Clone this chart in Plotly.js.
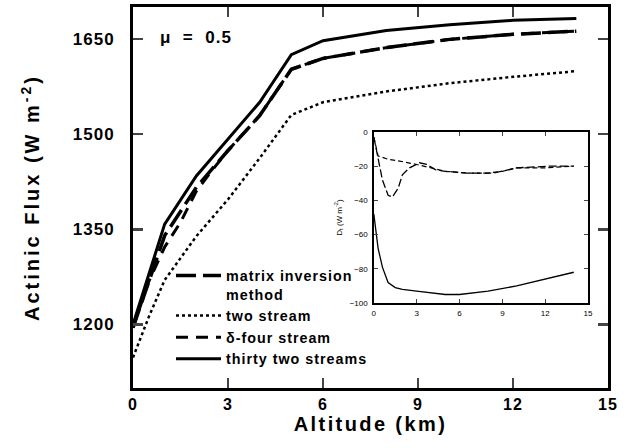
<!DOCTYPE html>
<html>
<head>
<meta charset="utf-8">
<script src="https://cdn.plot.ly/plotly-3.0.1.min.js"></script>
<style>
html,body{margin:0;padding:0;background:#fff;}
#chart{width:628px;height:448px;}
.g-xtitle text{letter-spacing:2.4px;}
.g-ytitle text{letter-spacing:3px;}
.xtick text,.ytick text{letter-spacing:1px;}
.legendtext{letter-spacing:1px;}
.annotation-text{letter-spacing:1px;}
</style>
</head>
<body>
<div id="chart"></div>
<script>
// Main panel: actinic flux vs altitude (mu = 0.5)
const altMatrix = [0, 1, 2, 3, 4, 5, 6, 8, 10, 12, 14];
const fluxMatrix = [1195, 1340, 1416, 1474, 1529, 1602, 1619, 1636, 1649, 1657, 1662];

const altTwo = [0, 0.5, 1, 2, 3, 4, 5, 6, 8, 10, 12, 14];
const fluxTwo = [1148, 1212, 1270, 1339, 1397, 1462, 1530, 1550, 1567, 1580, 1590, 1599];

const altFour = [0, 0.5, 1, 1.5, 2, 2.5, 3, 4, 5, 6, 8, 10, 12, 14];
const fluxFour = [1195, 1268, 1322, 1361, 1410, 1443, 1474, 1529, 1602, 1619, 1636, 1649, 1657, 1662];

const alt32 = [0, 1, 2, 3, 4, 5, 6, 8, 10, 12, 14];
const flux32 = [1200, 1358, 1434, 1492, 1550, 1625, 1647, 1663, 1672, 1679, 1682];

const seriesNames = ["matrix inversion<br>method", "two stream", "\u03b4-four stream", "thirty two streams"];

// Inset: differences D_t (W m^-2) vs altitude
const insetAltA = [0, 0.3, 0.6, 1, 1.3, 1.7, 2, 2.5, 3.2, 3.7, 4.3, 5, 6.5, 8.4, 10, 12.3, 14];
const insetDA = [-3, -15, -28, -37, -38, -33, -25, -21, -18, -19, -22, -23, -24, -24, -21, -20, -20];

const insetAltB = [0, 0.3, 1, 1.8, 3, 3.5, 4, 5, 6.5, 8, 9, 10, 12, 14];
const insetDB = [-3, -14, -16, -17, -19, -20, -21, -23, -24, -24, -23, -21, -21, -20];

const insetAltC = [0, 0.3, 0.6, 1, 1.5, 2, 3, 4, 5, 6, 8, 10, 12, 14];
const insetDC = [-48, -68, -79, -88, -91, -92, -93, -94, -95, -95, -93, -90, -86, -82];

const xTicks = [0, 3, 6, 9, 12, 15];
const yTicks = [1200, 1350, 1500, 1650];
const insetYTicks = [0, -20, -40, -60, -80, -100];

const FONT = "Arial, 'Liberation Sans', sans-serif";

const traces = [
  {x: altMatrix, y: fluxMatrix, name: seriesNames[0], mode: "lines",
   line: {color: "#000", width: 3.5, dash: "20px,7px"}},
  {x: altTwo, y: fluxTwo, name: seriesNames[1], mode: "lines",
   line: {color: "#000", width: 2.5, dash: "dot"}},
  {x: altFour, y: fluxFour, name: seriesNames[2], mode: "lines",
   line: {color: "#000", width: 3, dash: "12px,8px"}},
  {x: alt32, y: flux32, name: seriesNames[3], mode: "lines",
   line: {color: "#000", width: 3}},
  {x: insetAltA, y: insetDA, xaxis: "x2", yaxis: "y2", mode: "lines", showlegend: false,
   line: {color: "#000", width: 1.3, dash: "8px,3px"}},
  {x: insetAltB, y: insetDB, xaxis: "x2", yaxis: "y2", mode: "lines", showlegend: false,
   line: {color: "#000", width: 1.2, dash: "5px,3px"}},
  {x: insetAltC, y: insetDC, xaxis: "x2", yaxis: "y2", mode: "lines", showlegend: false,
   line: {color: "#000", width: 1.3}}
];

const layout = {
  width: 628, height: 448,
  margin: {l: 133, r: 20, t: 7, b: 60},
  paper_bgcolor: "#fff", plot_bgcolor: "#fff",
  font: {family: FONT, color: "#000"},
  showlegend: true,
  legend: {
    x: 0.08, y: 0.337, xanchor: "left", yanchor: "top",
    bgcolor: "rgba(0,0,0,0)", borderwidth: 0, valign: "top",
    font: {family: FONT, size: 14.3, weight: "bold", color: "#000"},
    itemwidth: 45, tracegroupgap: 0
  },
  xaxis: {
    domain: [0, 1], range: [0, 15], tickvals: xTicks, ticks: "inside", ticklen: 10, tickwidth: 2.5,
    showline: true, linewidth: 3, linecolor: "#000", mirror: "ticks", showgrid: false, zeroline: false,
    tickfont: {family: FONT, size: 16, weight: "bold"}, ticklabelstandoff: 0,
    title: {text: "Altitude (km)", font: {family: FONT, size: 20, weight: "bold"}, standoff: 0}
  },
  yaxis: {
    domain: [0, 1], range: [1100, 1700], tickvals: yTicks, ticks: "inside", ticklen: 10, tickwidth: 2.5,
    showline: true, linewidth: 3, linecolor: "#000", mirror: "ticks", showgrid: false, zeroline: false,
    tickfont: {family: FONT, size: 17, weight: "bold"}, ticklabelstandoff: 12,
    title: {text: "Actinic Flux (W m<sup>-2</sup>)", font: {family: FONT, size: 20, weight: "bold"}, standoff: 28}
  },
  xaxis2: {
    domain: [0.507, 0.958], anchor: "y2", range: [0, 15], tickvals: xTicks, ticks: "inside", ticklen: 4,
    tickwidth: 1.2, showline: true, linewidth: 1.5, linecolor: "#000", mirror: "ticks", showgrid: false,
    zeroline: false, tickfont: {family: FONT, size: 8}, ticklabelstandoff: 2
  },
  yaxis2: {
    domain: [0.223, 0.672], anchor: "x2", range: [-100, 0], tickvals: insetYTicks, ticks: "inside", ticklen: 4,
    tickwidth: 1.2, showline: true, linewidth: 1.5, linecolor: "#000", mirror: "ticks", showgrid: false,
    zeroline: false, tickfont: {family: FONT, size: 8}, ticklabelstandoff: 3,
    title: {text: "D<sub>t</sub> (W m<sup>-2</sup>)", font: {family: FONT, size: 8}, standoff: 6}
  },
  annotations: [
    {xref: "paper", yref: "paper", x: 0.052, y: 0.92, xanchor: "left", yanchor: "middle",
     text: "\u03bc\u00a0\u00a0=\u00a0\u00a00.5", showarrow: false, font: {family: FONT, size: 17, weight: "bold"}}
  ]
};

Plotly.newPlot("chart", traces, layout, {displayModeBar: false, staticPlot: true});
</script>
</body>
</html>
